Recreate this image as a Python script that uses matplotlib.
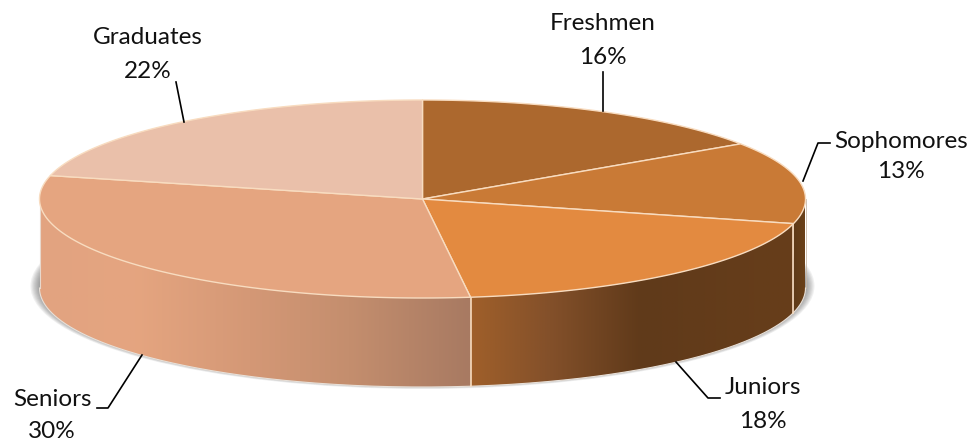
import numpy as np
import matplotlib
matplotlib.use('Agg')
import matplotlib.pyplot as plt
from matplotlib.colors import LinearSegmentedColormap
from matplotlib.patches import Ellipse, Polygon

# slices as drawn (the 3d view skews them a little from the printed labels)
categories = ['Freshmen', 'Sophomores', 'Juniors', 'Seniors', 'Graduates']
shares = [15.6, 13.4, 19.0, 30.8, 21.2]
percent_labels = ['16%', '13%', '18%', '30%', '22%']
top_colors = ['#AC682E', '#C97A36', '#E38A40', '#E5A580', '#EAC0AA']

# pie geometry in pixels
cx, cy, rx, ry, depth = 422.5, 199, 383, 99, 89
edge = '#F8DCC0'

plt.rcParams['font.family'] = ['Lato', 'DejaVu Sans']
fig = plt.figure(figsize=(9.74, 4.45), dpi=100)
ax = fig.add_axes([0, 0, 1, 1])
ax.set_xlim(0, 974)
ax.set_ylim(445, 0)
ax.axis('off')


def rim(a0, a1, dy=0, n=200):
    # a is degrees clockwise from the top of the pie
    t = np.radians(np.linspace(a0, a1, n))
    return np.column_stack([cx + rx * np.sin(t), cy + dy - ry * np.cos(t)])


# soft shadow under the pie
for i in range(8):
    ax.add_patch(Ellipse((cx, cy + depth - 2), 2 * rx + 18 - 2.4 * i, 2 * ry + 8 - i,
                         fc='#404040', ec='none', alpha=0.08, zorder=1))

# side walls, only the front half can be seen
wall_stops = {
    'Sophomores': [(793, '#5E3A18'), (805, '#6A4019')],
    'Juniors': [(470, '#A0602A'), (550, '#83502A'), (640, '#603A1A'), (793, '#673E1A')],
    'Seniors': [(40, '#E2A380'), (135, '#E5A580'), (250, '#D49876'), (350, '#C48E6E'), (470, '#A87A62')],
}
ends = np.cumsum(shares) * 3.6
starts = np.r_[0, ends[:-1]]
for name, a0, a1 in zip(categories, starts, ends):
    if name not in wall_stops:
        continue
    a0, a1 = max(a0, 90), min(a1, 270)
    poly = Polygon(np.vstack([rim(a0, a1), rim(a1, a0, depth)]), fc='none', ec='none')
    ax.add_patch(poly)
    stops = wall_stops[name]
    x0, x1 = stops[0][0], stops[-1][0]
    cmap = LinearSegmentedColormap.from_list(
        name, [((x - x0) / (x1 - x0), c) for x, c in stops])
    im = ax.imshow(np.linspace(0, 1, 256)[None, :], cmap=cmap, aspect='auto',
                   extent=(x0, x1, cy + depth + ry + 2, cy), zorder=2)
    im.set_clip_path(poly)
    ax.plot(*rim(a0, a1, depth).T, color='#E8E0D8', lw=0.8, zorder=3)
ax.set_xlim(0, 974)
ax.set_ylim(445, 0)

# light seams where the slices meet on the wall
for a in ends[1:3]:
    x, y = rim(a, a, n=1)[0]
    ax.plot([x, x], [y, y + depth], color=edge, lw=1.2, zorder=3)
ax.plot([cx + rx, cx + rx], [cy, cy + depth], color='#C8B8A8', lw=0.6, zorder=3)
ax.plot([cx - rx, cx - rx], [cy, cy + depth], color='#E8D8CC', lw=0.8, zorder=3)

# top face
for name, a0, a1, col in zip(categories, starts, ends, top_colors):
    pts = np.vstack([[cx, cy], rim(a0, a1)])
    ax.add_patch(Polygon(pts, closed=True, fc=col, ec=edge, lw=1.0, joinstyle='round', zorder=4))

# data labels and leader lines
label_pos = [(603, 24, 58), (901, 142, 172), (763, 388, 421), (52, 400, 432), (148, 37, 71)]
leaders = [
    [(603, 72), (603, 111)],
    [(830, 143), (818, 143), (803, 181)],
    [(720, 398), (708, 398), (676, 362)],
    [(97, 408), (108, 408), (142, 355)],
    [(176, 82), (184, 122)],
]
for name, pct, (x, y1, y2), line in zip(categories, percent_labels, label_pos, leaders):
    ax.text(x, y1, name, ha='center', va='center', fontsize=17.5, color='#111111', zorder=6)
    ax.text(x, y2, pct, ha='center', va='center', fontsize=17.5, color='#111111', zorder=6)
    ax.plot(*zip(*line), color='black', lw=1.2, zorder=6)

fig.savefig('out.png', dpi=100)
